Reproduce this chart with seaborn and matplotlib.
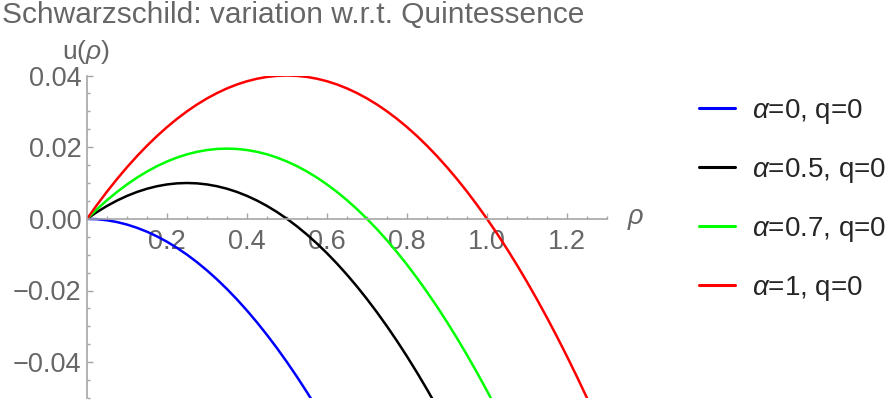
import numpy as np
import pandas as pd
import seaborn as sns
import matplotlib
matplotlib.use("Agg")
import matplotlib.pyplot as plt
from matplotlib.ticker import MultipleLocator, FuncFormatter

# values (rho step 0.025)
rho = [0.0, 0.025, 0.05, 0.075, 0.1, 0.125, 0.15, 0.175, 0.2, 0.225, 0.25,
       0.275, 0.3, 0.325, 0.35, 0.375, 0.4, 0.425, 0.45, 0.475, 0.5, 0.525,
       0.55, 0.575, 0.6, 0.625, 0.65, 0.675, 0.7, 0.725, 0.75, 0.775, 0.8,
       0.825, 0.85, 0.875, 0.9, 0.925, 0.95, 0.975, 1.0, 1.025, 1.05, 1.075,
       1.1, 1.125, 1.15, 1.175, 1.2, 1.225, 1.25, 1.275, 1.3]

u_a0 = [0.0, -0.0001, -0.0004, -0.0009, -0.0016, -0.0025, -0.0036, -0.0049,
        -0.0064, -0.0081, -0.01, -0.0121, -0.0144, -0.0169, -0.0196, -0.0225,
        -0.0256, -0.0289, -0.0324, -0.0361, -0.04, -0.0441, -0.0484, -0.0529]
u_a05 = [0.0, 0.0019, 0.0036, 0.0051, 0.0064, 0.0075, 0.0084, 0.0091, 0.0096,
         0.0099, 0.01, 0.0099, 0.0096, 0.0091, 0.0084, 0.0075, 0.0064, 0.0051,
         0.0036, 0.0019, 0.0, -0.0021, -0.0044, -0.0069, -0.0096, -0.0125,
         -0.0156, -0.0189, -0.0224, -0.0261, -0.03, -0.0341, -0.0384, -0.0429,
         -0.0476, -0.0525]
u_a07 = [0.0, 0.0027, 0.0052, 0.0075, 0.0096, 0.0115, 0.0132, 0.0147, 0.016,
         0.0171, 0.018, 0.0187, 0.0192, 0.0195, 0.0196, 0.0195, 0.0192, 0.0187,
         0.018, 0.0171, 0.016, 0.0147, 0.0132, 0.0115, 0.0096, 0.0075, 0.0052,
         0.0027, 0.0, -0.0029, -0.006, -0.0093, -0.0128, -0.0165, -0.0204,
         -0.0245, -0.0288, -0.0333, -0.038, -0.0429, -0.048, -0.0533]
u_a1 = [0.0, 0.0039, 0.0076, 0.0111, 0.0144, 0.0175, 0.0204, 0.0231, 0.0256,
        0.0279, 0.03, 0.0319, 0.0336, 0.0351, 0.0364, 0.0375, 0.0384, 0.0391,
        0.0396, 0.0399, 0.04, 0.0399, 0.0396, 0.0391, 0.0384, 0.0375, 0.0364,
        0.0351, 0.0336, 0.0319, 0.03, 0.0279, 0.0256, 0.0231, 0.0204, 0.0175,
        0.0144, 0.0111, 0.0076, 0.0039, 0.0, -0.0041, -0.0084, -0.0129,
        -0.0176, -0.0225, -0.0276, -0.0329, -0.0384, -0.0441, -0.05, -0.0561]

labels = [r"$\alpha$=0, q=0", r"$\alpha$=0.5, q=0",
          r"$\alpha$=0.7, q=0", r"$\alpha$=1, q=0"]
colors = ["#0000ff", "#000000", "#00ff00", "#ff0000"]
series = [u_a0, u_a05, u_a07, u_a1]

frames = []
for lab, u in zip(labels, series):
    frames.append(pd.DataFrame({"rho": rho[:len(u)], "u": u, "curve": lab}))
df = pd.concat(frames, ignore_index=True)

sns.set_style("white")
plt.rcParams["font.family"] = ["Liberation Sans", "DejaVu Sans"]
plt.rcParams["mathtext.fontset"] = "custom"
plt.rcParams["mathtext.rm"] = "Liberation Sans"
plt.rcParams["mathtext.it"] = "Liberation Sans:italic"

gray = "#666666"
axcol = "#a6a6a6"

fig = plt.figure(figsize=(8.86, 4.03), dpi=100)
ax = fig.add_axes([87 / 886, 5 / 403, 520 / 886, 322.5 / 403])

sns.lineplot(data=df, x="rho", y="u", hue="curve", palette=colors,
             hue_order=labels, linewidth=1.8, sort=False, ax=ax)

ax.set_xlim(0, 1.3)
ax.set_ylim(-0.05, 0.04)

for s in ["top", "right"]:
    ax.spines[s].set_visible(False)
ax.spines["bottom"].set_position(("data", 0))
ax.spines["left"].set_position(("data", 0))
for s in ["bottom", "left"]:
    ax.spines[s].set_color(axcol)
    ax.spines[s].set_linewidth(1.2)


def fmt(decimals):
    return FuncFormatter(lambda v, p: f"{v:.{decimals}f}".replace("-", "\u2212"))


ax.set_xticks([0.2, 0.4, 0.6, 0.8, 1.0, 1.2])
ax.xaxis.set_minor_locator(MultipleLocator(0.05))
ax.xaxis.set_major_formatter(fmt(1))
ax.set_yticks([-0.04, -0.02, 0.0, 0.02, 0.04])
ax.yaxis.set_minor_locator(MultipleLocator(0.005))
ax.yaxis.set_major_formatter(fmt(2))

ax.tick_params(which="both", direction="in", colors=axcol, labelcolor=gray,
               labelsize=19.5, width=1.0)
ax.tick_params(which="major", length=4)
ax.tick_params(which="minor", length=2.5)
ax.tick_params(axis="x", which="both", pad=7, bottom=True)
ax.tick_params(axis="y", which="both", pad=4, left=True)

ax.set_xlabel("")
ax.set_ylabel("")
ax.text(1.35, 0, r"$\rho$", fontsize=19.5, color=gray, ha="left", va="center",
        transform=ax.transData, clip_on=False)
fig.text(86 / 886, 1 - 52 / 403, r"u($\rho$)", fontsize=19, color=gray,
         ha="center", va="center")

fig.text(0.002, 1 - 1 / 403, "Schwarzschild: variation w.r.t. Quintessence",
         fontsize=21.5, color=gray, ha="left", va="top")

handles, labs = ax.get_legend_handles_labels()
leg = ax.legend(handles, labs, loc="upper left",
                bbox_to_anchor=(688 / 886, 1 - 86 / 403),
                bbox_transform=fig.transFigure, frameon=False,
                fontsize=20, handlelength=1.3, handletextpad=0.6,
                labelspacing=1.08, borderaxespad=0)
for line in leg.get_lines():
    line.set_linewidth(2.2)

fig.savefig("out.png", dpi=100)
